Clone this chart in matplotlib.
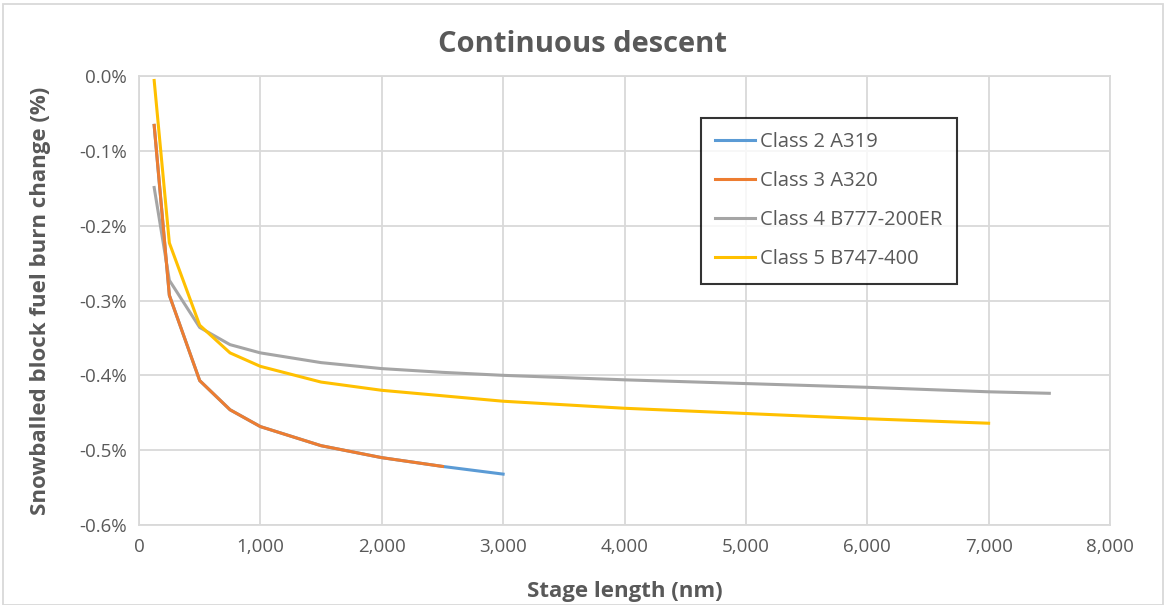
import matplotlib
matplotlib.use("Agg")
import matplotlib.pyplot as plt
from matplotlib.patches import Rectangle
from matplotlib.ticker import FuncFormatter, MultipleLocator

plt.rcParams['font.family'] = ['Open Sans', 'DejaVu Sans']

stage_a319 = [125, 250, 500, 750, 1000, 1500, 2000, 2500, 3000]
a319 = [-0.066, -0.293, -0.407, -0.446, -0.4685, -0.494, -0.510, -0.5217, -0.532]

stage_a320 = [125, 250, 500, 750, 1000, 1500, 2000, 2500]
a320 = [-0.066, -0.293, -0.407, -0.446, -0.4685, -0.494, -0.510, -0.5217]

stage_b777 = [125, 250, 500, 750, 1000, 1500, 2000, 2500, 3000, 4000, 5000, 6000, 7000, 7500]
b777 = [-0.149, -0.273, -0.336, -0.359, -0.370, -0.383, -0.391, -0.396, -0.400,
        -0.406, -0.411, -0.416, -0.422, -0.424]

stage_b747 = [125, 250, 500, 750, 1000, 1500, 2000, 3000, 4000, 5000, 6000, 7000]
b747 = [-0.006, -0.223, -0.333, -0.370, -0.388, -0.409, -0.420, -0.4346,
        -0.444, -0.451, -0.458, -0.464]

labels = ['Class 2 A319', 'Class 3 A320', 'Class 4 B777-200ER', 'Class 5 B747-400']
colors = ['#5B9BD5', '#ED7D31', '#A5A5A5', '#FFC000']

W, H = 1166, 605
fig = plt.figure(figsize=(W / 100, H / 100), dpi=100)
ax = fig.add_axes([139 / W, 1 - 525 / H, (1110 - 139) / W, (525 - 76) / H])

ax.plot(stage_a319, a319, color=colors[0], lw=2.2, label=labels[0], zorder=3)
ax.plot(stage_a320, a320, color=colors[1], lw=2.2, label=labels[1], zorder=4)
ax.plot(stage_b777, b777, color=colors[2], lw=2.2, label=labels[2], zorder=3)
ax.plot(stage_b747, b747, color=colors[3], lw=2.2, label=labels[3], zorder=3)

ax.set_xlim(0, 8000)
ax.set_ylim(-0.6, 0.0)
ax.xaxis.set_major_locator(MultipleLocator(1000))
ax.yaxis.set_major_locator(MultipleLocator(0.1))
ax.xaxis.set_major_formatter(FuncFormatter(lambda v, p: f"{int(round(v)):,}"))
ax.yaxis.set_major_formatter(FuncFormatter(lambda v, p: f"{v:.1f}%" if abs(v) > 1e-9 else "0.0%"))
ax.grid(True, color='#D9D9D9', lw=1.3, zorder=0)
ax.set_axisbelow(True)
for s in ax.spines.values():
    s.set_color('#D9D9D9')
    s.set_linewidth(1.3)
ax.tick_params(length=0, labelsize=13.5, labelcolor='#595959', pad=9)

ax.set_xlabel('Stage length (nm)', fontsize=16, fontweight='bold', color='#595959', labelpad=18)
ax.set_ylabel('Snowballed block fuel burn change (%)', fontsize=16, fontweight='bold',
              color='#595959', labelpad=20)
fig.text(0.5, 1 - 44 / H, 'Continuous descent', ha='center', va='center',
         fontsize=21, fontweight='bold', color='#595959')

leg = ax.legend(loc='upper left', bbox_to_anchor=((701 - 139) / (1110 - 139), 1 - (118 - 76) / (525 - 76)),
                fontsize=14.5, frameon=True, fancybox=False, edgecolor='black',
                handlelength=2.0, handletextpad=0.25, labelspacing=0.95, borderpad=0.7,
                borderaxespad=0)
leg.get_frame().set_linewidth(1.5)
for t in leg.get_texts():
    t.set_color('#595959')

fig.patches.append(Rectangle((3 / W, 0), 1 - 6 / W, 1 - 4 / H, transform=fig.transFigure,
                             fill=False, edgecolor='#D9D9D9', lw=1.3))

fig.savefig('out.png', dpi=100)
